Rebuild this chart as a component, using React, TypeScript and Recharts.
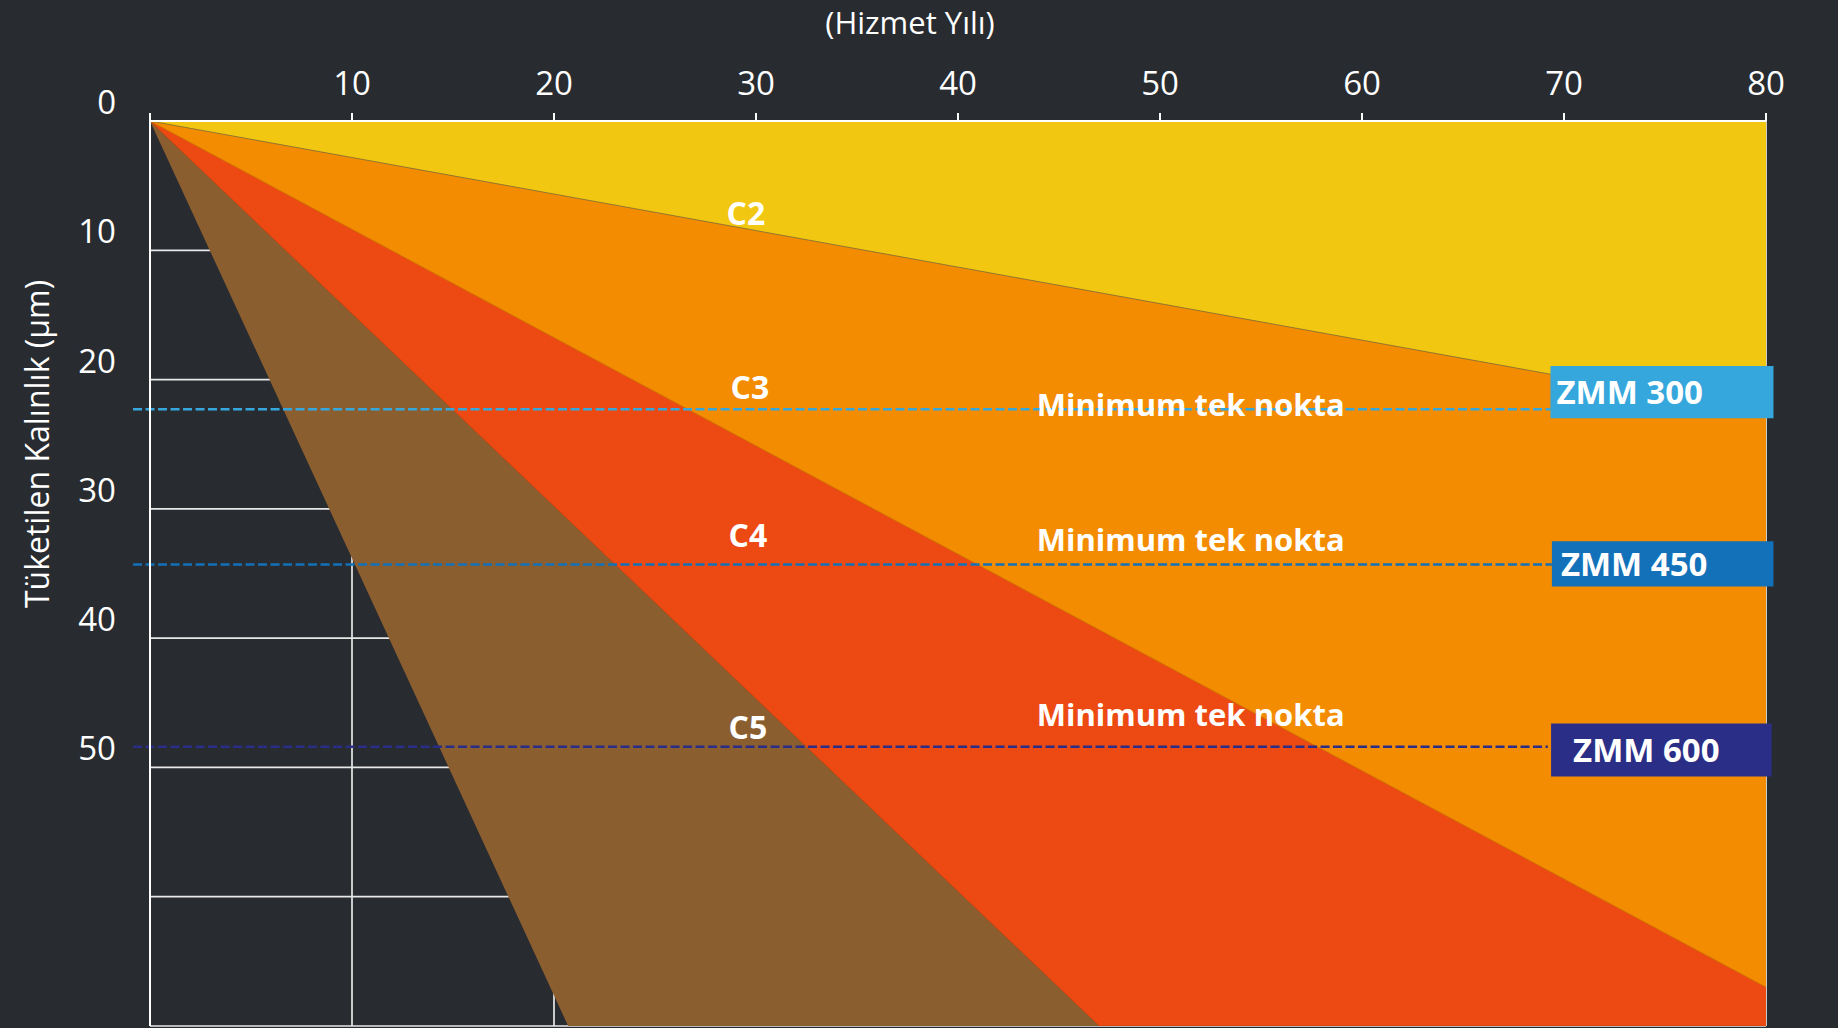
import React from 'react';
import {
  AreaChart,
  Area,
  XAxis,
  YAxis,
  CartesianGrid,
  ReferenceLine,
  ReferenceArea,
  ReferenceDot,
} from 'recharts';

// ---- axes ----
const xTicks = [0, 10, 20, 30, 40, 50, 60, 70, 80];
const xTickLabels = ['', '10', '20', '30', '40', '50', '60', '70', '80'];
const yTicks = [0, 10, 20, 30, 40, 50, 60, 70];
const yTickLabels = ['0', '10', '20', '30', '40', '50', '', ''];

// ---- corrosion-class boundary lines (year -> consumed thickness µm) ----
const c2Years = [0, 80];
const c2Depth = [0, 22.6];
const c3Years = [0, 80];
const c3Depth = [0, 67.0];
const c4Years = [0, 47.0, 80];
const c4Depth = [0, 70, 70];
const c5Years = [0, 20.7, 80];
const c5Depth = [0, 70, 70];

// ---- class labels ----
const zoneNames = ['C2', 'C3', 'C4', 'C5'];
const zoneLabelYear = [29.5, 29.7, 29.6, 29.6];
const zoneLabelDepth = [7.2, 20.6, 32.1, 46.9];

// ---- ZMM coating minimum single-spot thickness ----
const zmmNames = ['ZMM 300', 'ZMM 450', 'ZMM 600'];
const zmmMinDepth = [22.3, 34.3, 48.4];
const zmmBoxTop = [18.95, 32.5, 46.6];
const zmmBoxBottom = [23.0, 36.0, 50.7];
const zmmBoxStart = [69.33, 69.4, 69.36];
const zmmBoxEnd = [80.37, 80.37, 80.28];
const zmmLineStart = -0.84;
const zmmLineEnd = [69.33, 69.4, 69.2];
const minLabel = 'Minimum tek nokta';
const minLabelYear = 43.9;
const minLabelDepth = [21.96, 32.4, 45.94];

const zmmColors = ['#35A7DC', '#1271B8', '#2A2E86'];
const zmmTextOffset = [6, 9, 22];

const toData = (years: number[], depth: number[]) =>
  years.map((year, i) => ({ year, depth: depth[i] }));

const series = [
  { key: 'C5', data: toData(c5Years, c5Depth), fill: '#8B5E30', stroke: 'none' },
  { key: 'C4', data: toData(c4Years, c4Depth), fill: '#EC4A12', stroke: '#c8420f' },
  { key: 'C3', data: toData(c3Years, c3Depth), fill: '#F38C00', stroke: '#c97400' },
  { key: 'C2', data: toData(c2Years, c2Depth), fill: '#F2C711', stroke: '#7a6a3a' },
];

const BG = '#282B30';
const FONT = "'Open Sans', 'Noto Sans', sans-serif";

const XTick = (props: any) => {
  const { x, y, payload } = props;
  const idx = xTicks.indexOf(payload.value);
  const label = idx >= 0 ? xTickLabels[idx] : '';
  if (!label) return null;
  return (
    <text x={x} y={y} textAnchor="middle" fill="#FFFFFF" fontSize={33} fontFamily={FONT}>
      {label}
    </text>
  );
};

const YTick = (props: any) => {
  const { x, y, payload } = props;
  const idx = yTicks.indexOf(payload.value);
  const label = idx >= 0 ? yTickLabels[idx] : '';
  if (!label) return null;
  return (
    <text x={x} y={y - 7} textAnchor="end" fill="#FFFFFF" fontSize={33} fontFamily={FONT}>
      {label}
    </text>
  );
};

export default function App() {
  return (
    <div
      style={{
        position: 'fixed',
        left: 0,
        top: 0,
        width: 1838,
        height: 1028,
        background: BG,
        fontFamily: FONT,
        overflow: 'hidden',
      }}
    >
      <AreaChart
        width={1838}
        height={1028}
        margin={{ top: 81, right: 72, bottom: 2, left: 90 }}
      >
        <CartesianGrid
          stroke="#E8E8E8"
          strokeWidth={1.7}
          horizontal
          vertical
          horizontalValues={yTicks}
          verticalValues={xTicks}
        />
        <XAxis
          dataKey="year"
          type="number"
          orientation="top"
          domain={[0, 80]}
          ticks={xTicks}
          height={40}
          tickSize={8}
          tickMargin={18}
          tick={<XTick />}
          axisLine={{ stroke: '#FFFFFF', strokeWidth: 2 }}
          tickLine={{ stroke: '#FFFFFF', strokeWidth: 2 }}
          allowDataOverflow
          interval={0}
        />
        <YAxis
          type="number"
          dataKey="depth"
          domain={[0, 70]}
          reversed
          ticks={yTicks}
          width={60}
          tickSize={0}
          tickMargin={34}
          tickLine={false}
          tick={<YTick />}
          axisLine={{ stroke: '#FFFFFF', strokeWidth: 2 }}
          allowDataOverflow
          interval={0}
        />
        {series.map((s) => (
          <Area
            key={s.key}
            data={s.data}
            dataKey="depth"
            type="linear"
            baseValue={0}
            fill={s.fill}
            fillOpacity={1}
            stroke={s.stroke}
            strokeWidth={0.8}
            dot={false}
            activeDot={false}
            isAnimationActive={false}
          />
        ))}
        {zmmNames.map((name, i) => (
          <ReferenceLine
            key={`line-${name}`}
            segment={[
              { x: zmmLineStart, y: zmmMinDepth[i] },
              { x: zmmLineEnd[i], y: zmmMinDepth[i] },
            ]}
            stroke={zmmColors[i]}
            strokeWidth={2.5}
            strokeDasharray="9 3.5"
            ifOverflow="visible"
          />
        ))}
        {zmmNames.map((name, i) => (
          <ReferenceArea
            key={`box-${name}`}
            x1={zmmBoxStart[i]}
            x2={zmmBoxEnd[i]}
            y1={zmmBoxTop[i]}
            y2={zmmBoxBottom[i]}
            fill={zmmColors[i]}
            fillOpacity={1}
            stroke="none"
            ifOverflow="visible"
            label={{
              value: name,
              position: 'insideLeft',
              offset: zmmTextOffset[i],
              fill: '#FFFFFF',
              fontSize: 33,
              fontWeight: 700,
              fontFamily: FONT,
            }}
          />
        ))}
        {minLabelDepth.map((d, i) => (
          <ReferenceDot
            key={`min-${i}`}
            x={minLabelYear}
            y={d}
            r={0}
            fill="none"
            stroke="none"
            ifOverflow="visible"
            label={{
              value: minLabel,
              position: 'right',
              offset: 0,
              fill: '#FFFFFF',
              fontSize: 31,
              fontWeight: 700,
              fontFamily: FONT,
            }}
          />
        ))}
        {zoneNames.map((name, i) => (
          <ReferenceDot
            key={`zone-${name}`}
            x={zoneLabelYear[i]}
            y={zoneLabelDepth[i]}
            r={0}
            fill="none"
            stroke="none"
            ifOverflow="visible"
            label={{
              value: name,
              position: 'center',
              fill: '#FFFFFF',
              fontSize: 32,
              fontWeight: 700,
              fontFamily: FONT,
            }}
          />
        ))}
      </AreaChart>
      <div
        style={{
          position: 'absolute',
          left: 910,
          top: 23,
          transform: 'translate(-50%, -50%)',
          color: '#FFFFFF',
          fontSize: 31,
          whiteSpace: 'nowrap',
          lineHeight: 1.4,
        }}
      >
        (Hizmet Yılı)
      </div>
      <div
        style={{
          position: 'absolute',
          left: 37,
          top: 444,
          transform: 'translate(-50%, -50%) rotate(-90deg)',
          color: '#FFFFFF',
          fontSize: 32,
          whiteSpace: 'nowrap',
          lineHeight: 1,
        }}
      >
        Tüketilen Kalınlık (µm)
      </div>
    </div>
  );
}
